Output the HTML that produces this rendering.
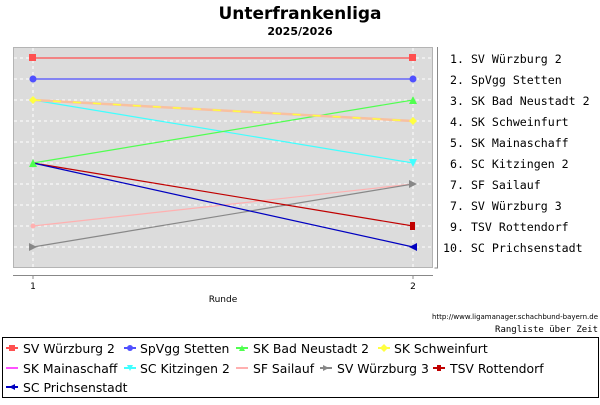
<!DOCTYPE html><html><head><style>body{margin:0;background:#fff}</style></head><body>
<svg width="600" height="400" xmlns="http://www.w3.org/2000/svg" font-family="DejaVu Sans, Liberation Sans, sans-serif">
<text x="300" y="19" text-anchor="middle" font-size="17" font-weight="bold">Unterfrankenliga</text>
<text x="300" y="35" text-anchor="middle" font-size="11" font-weight="bold">2025/2026</text>
<rect x="13.5" y="47.5" width="419" height="220" fill="#dcdcdc" stroke="#b4b4b4"/>
<g stroke="#fff" stroke-dasharray="3,3" stroke-width="1">
<line x1="14" x2="432" y1="58" y2="58"/><line x1="14" x2="432" y1="79" y2="79"/><line x1="14" x2="432" y1="100" y2="100"/><line x1="14" x2="432" y1="121" y2="121"/><line x1="14" x2="432" y1="142" y2="142"/><line x1="14" x2="432" y1="163" y2="163"/><line x1="14" x2="432" y1="184" y2="184"/><line x1="14" x2="432" y1="205" y2="205"/><line x1="14" x2="432" y1="226" y2="226"/><line x1="14" x2="432" y1="247" y2="247"/>
<line x1="33" x2="33" y1="48" y2="267"/><line x1="413" x2="413" y1="48" y2="267"/></g>
<line x1="13" x2="433" y1="275.5" y2="275.5" stroke="#888"/>
<line x1="33" x2="33" y1="275" y2="279" stroke="#888"/><line x1="413" x2="413" y1="275" y2="279" stroke="#888"/>
<path d="M437.5 47v221h-3" fill="none" stroke="#888"/>
<g font-size="9"><text x="33" y="289" text-anchor="middle">1</text><text x="413" y="289" text-anchor="middle">2</text><text x="223" y="302" text-anchor="middle">Runde</text></g>
<g stroke-width="1.2" fill="none">
<line x1="33" y1="226" x2="413" y2="184" stroke="#ffb0b0"/>
<line x1="33" y1="247" x2="413" y2="184" stroke="#888"/>
<line x1="33" y1="100" x2="413" y2="163" stroke="#40ffff"/>
<line x1="33" y1="163" x2="413" y2="100" stroke="#50ff50"/>
<line x1="33" y1="100" x2="413" y2="121" stroke="#f8c0a0" stroke-width="2.5"/>
<line x1="33" y1="100" x2="413" y2="121" stroke="#ffff40" stroke-dasharray="8,12" stroke-width="1.5"/>
<line x1="33" y1="163" x2="413" y2="226" stroke="#c00000"/>
<line x1="33" y1="163" x2="413" y2="247" stroke="#0000c0"/>
<line x1="33" y1="58" x2="413" y2="58" stroke="#ff5050"/>
<line x1="33" y1="79" x2="413" y2="79" stroke="#5050ff"/>
</g>
<rect x="29" y="54" width="7" height="7" fill="#ff5050"/><rect x="409" y="54" width="7" height="7" fill="#ff5050"/>
<circle cx="33" cy="79" r="3.5" fill="#5050ff"/><circle cx="413" cy="79" r="3.5" fill="#5050ff"/>
<polygon points="409,104 413,96 417,104" fill="#50ff50"/><polygon points="29,167 33,159 37,167" fill="#50ff50"/>
<polygon points="33,96 37,100 33,104 29,100" fill="#ffff40"/><polygon points="413,117 417,121 413,125 409,121" fill="#ffff40"/>
<polygon points="409,159 417,159 413,167" fill="#40ffff"/>
<polygon points="409,180 417,184 409,188" fill="#888"/><polygon points="29,243 37,247 29,251" fill="#888"/>
<circle cx="33" cy="226" r="2.5" fill="#ffb0b0"/>
<rect x="410" y="222" width="5" height="8" fill="#c00000"/>
<polygon points="417,243 409,247 417,251" fill="#0000c0"/>
<g font-family="DejaVu Sans Mono, Liberation Mono, monospace" font-size="11.6">
<text x="450" y="63">1. SV Würzburg 2</text>
<text x="450" y="84">2. SpVgg Stetten</text>
<text x="450" y="105">3. SK Bad Neustadt 2</text>
<text x="450" y="126">4. SK Schweinfurt</text>
<text x="450" y="147">5. SK Mainaschaff</text>
<text x="450" y="168">6. SC Kitzingen 2</text>
<text x="450" y="189">7. SF Sailauf</text>
<text x="450" y="210">7. SV Würzburg 3</text>
<text x="450" y="231">9. TSV Rottendorf</text>
<text x="443" y="252">10. SC Prichsenstadt</text></g>
<text x="598" y="319" text-anchor="end" font-size="7">http://www.ligamanager.schachbund-bayern.de</text>
<text x="598" y="332" text-anchor="end" font-size="9" font-family="DejaVu Sans Mono, monospace">Rangliste über Zeit</text>
<rect x="2.5" y="337.5" width="596" height="60" fill="none" stroke="#000"/>
<g font-size="12.4">
<line x1="6" x2="18" y1="348" y2="348" stroke="#ff5050" stroke-width="2"/><rect x="9" y="345" width="6" height="6" fill="#ff5050"/><text x="23" y="353">SV Würzburg 2</text>
<line x1="124" x2="136" y1="348" y2="348" stroke="#5050ff" stroke-width="2"/><circle cx="130" cy="348" r="3" fill="#5050ff"/><text x="140" y="353">SpVgg Stetten</text>
<line x1="236" x2="248" y1="348" y2="348" stroke="#50ff50" stroke-width="2"/><polygon points="239,351 242,345 245,351" fill="#50ff50"/><text x="253" y="353">SK Bad Neustadt 2</text>
<line x1="378" x2="390" y1="348" y2="348" stroke="#ffff40" stroke-width="2"/><polygon points="384,344 388,348 384,352 380,348" fill="#ffff40"/><text x="394" y="353">SK Schweinfurt</text>
<line x1="6" x2="18" y1="368" y2="368" stroke="#ff50ff" stroke-width="2"/><text x="23" y="373">SK Mainaschaff</text>
<line x1="124" x2="136" y1="368" y2="368" stroke="#40ffff" stroke-width="2"/><polygon points="127,365 133,365 130,371" fill="#40ffff"/><text x="140" y="373">SC Kitzingen 2</text>
<line x1="236" x2="248" y1="368" y2="368" stroke="#ffb0b0" stroke-width="2"/><text x="253" y="373">SF Sailauf</text>
<line x1="320" x2="332" y1="368" y2="368" stroke="#888" stroke-width="2"/><polygon points="323,365 329,368 323,371" fill="#888"/><text x="337" y="373">SV Würzburg 3</text>
<line x1="433" x2="445" y1="368" y2="368" stroke="#c00000" stroke-width="2"/><rect x="437" y="365" width="4" height="6" fill="#c00000"/><text x="450" y="373">TSV Rottendorf</text>
<line x1="6" x2="18" y1="387" y2="387" stroke="#0000c0" stroke-width="2"/><polygon points="15,384 9,387 15,390" fill="#0000c0"/><text x="23" y="392">SC Prichsenstadt</text>
</g>
</svg>
</body></html>
